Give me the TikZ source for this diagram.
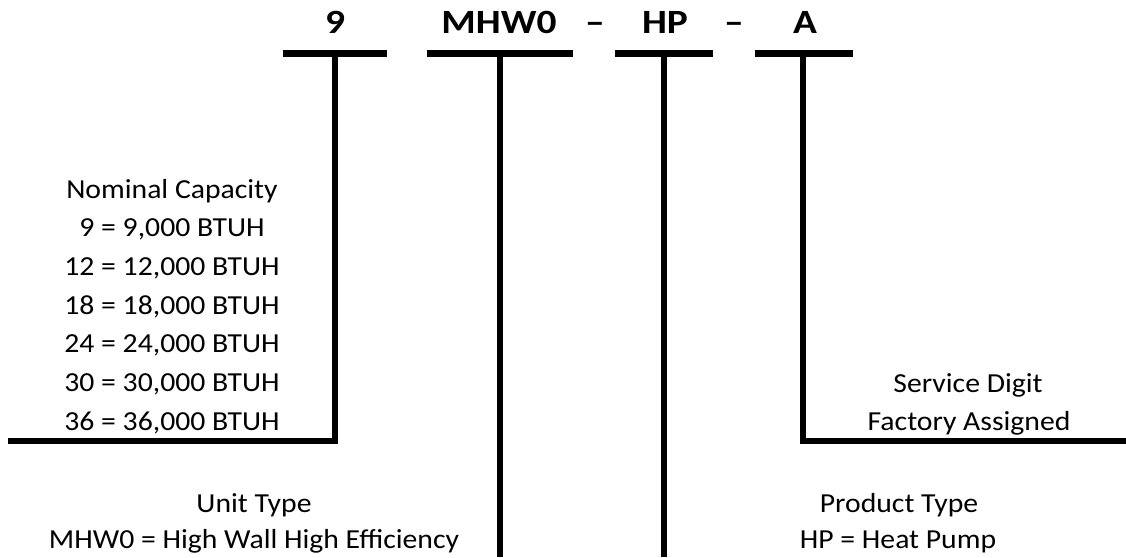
\documentclass[tikz,border=0pt]{standalone}
\usepackage{fontspec}
\setmainfont{Carlito}
\newcommand{\cwide}[1]{\scalebox{1.16}[1]{#1}}
\newcommand{\bwide}[1]{\scalebox{1.08}[1]{#1}}
\begin{document}
\begin{tikzpicture}[x=1pt,y=-1pt,
  code/.style={font=\fontsize{34}{40}\selectfont\bfseries, anchor=base, inner sep=0pt},
  lbl/.style={font=\fontsize{27.5}{32}\selectfont, anchor=base, inner sep=0pt},
  bar/.style={line width=6.5pt, line cap=butt, line join=miter}]
\useasboundingbox (0,0) rectangle (1126,557);
% code characters
\node[code] (c9) at (335,33) {\cwide{9}};
\node[code] (cM) at (499,33) {\cwide{MHW0}};
\node[code] (d1) at (595,33) {\cwide{–}};
\node[code] (cH) at (665,33) {\cwide{HP}};
\node[code] (d2) at (734,33) {\cwide{–}};
\node[code] (cA) at (805,33) {\cwide{A}};
% bar coordinates
\coordinate (b1l) at (283,53.7); \coordinate (b1r) at (387,53.7); \coordinate (s1) at (335,53.7);
\coordinate (b2l) at (427,53.7); \coordinate (b2r) at (573,53.7); \coordinate (s2) at (500,53.7);
\coordinate (b3l) at (615,53.7); \coordinate (b3r) at (713,53.7); \coordinate (s3) at (664,53.7);
\coordinate (b4l) at (755,53.7); \coordinate (b4r) at (853,53.7); \coordinate (s4) at (803,53.7);
\coordinate (k1) at (335,441); \coordinate (e1) at (8,441);
\coordinate (k4) at (803,441); \coordinate (e4) at (1126,441);
\coordinate (e2) at (500,557); \coordinate (e3) at (664,557);
\draw[bar] (b1l) -- (b1r);
\draw[bar] (b2l) -- (b2r);
\draw[bar] (b3l) -- (b3r);
\draw[bar] (b4l) -- (b4r);
\draw[bar] (s1) -- (k1) -- (e1);
\draw[bar] (s2) -- (e2);
\draw[bar] (s3) -- (e3);
\draw[bar] (s4) -- (k4) -- (e4);
% left block
\node[lbl] (n0) at (172,198) {\bwide{Nominal Capacity}};
\node[lbl] (n1) at (172,236.7) {\bwide{9 = 9,000 BTUH}};
\node[lbl] (n2) at (172,275.3) {\bwide{12 = 12,000 BTUH}};
\node[lbl] (n3) at (172,314) {\bwide{18 = 18,000 BTUH}};
\node[lbl] (n4) at (172,352.7) {\bwide{24 = 24,000 BTUH}};
\node[lbl] (n5) at (172,391.3) {\bwide{30 = 30,000 BTUH}};
\node[lbl] (n6) at (172,430) {\bwide{36 = 36,000 BTUH}};
% service digit
\node[lbl] (sd1) at (968,392) {\bwide{Service Digit}};
\node[lbl] (sd2) at (969,430.5) {\bwide{Factory Assigned}};
% unit type
\node[lbl] (u1) at (254,512) {\bwide{Unit Type}};
\node[lbl] (u2) at (254,548) {\bwide{MHW0 = High Wall High Efficiency}};
% product type
\node[lbl] (p1) at (899,512) {\bwide{Product Type}};
\node[lbl] (p2) at (898,548) {\bwide{HP = Heat Pump}};
\end{tikzpicture}
\end{document}
